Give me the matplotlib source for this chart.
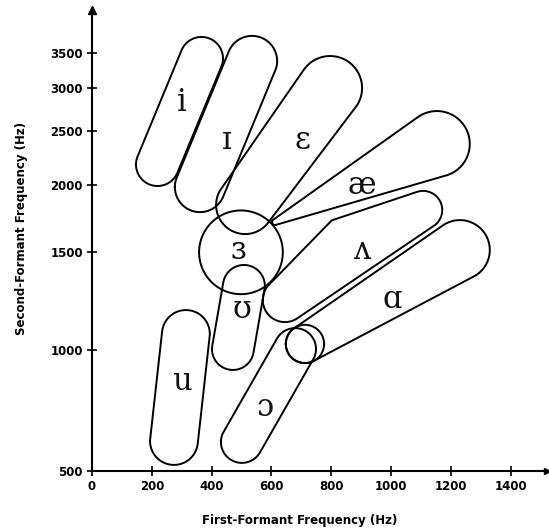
import numpy as np
import matplotlib
matplotlib.use("Agg")
import matplotlib.pyplot as plt

# ---- axis ticks ----
f1_ticks = [0, 200, 400, 600, 800, 1000, 1200, 1400]
f2_ticks = [500, 1000, 1500, 2000, 2500, 3000, 3500]

# ---- vowel regions: anchor points (F1 Hz, F2 Hz) and cap radii (Hz of F1) ----
i_f1, i_f2, i_r = [366, 219], [3426, 2189], [72, 72]
ih_f1, ih_f2, ih_r = [535, 361], [3390, 1985], [84, 84]
eh_f1, eh_f2, eh_r = [796, 512], [3004, 1851], [107, 97]
ae_f1, ae_f2, ae_r = [1153, 612], [2378, 1725], [110, 10]
er_f1, er_f2, er_r = [498], [1500], [140]
uh_f1, uh_f2, uh_r = [645, 806, 1107], [1256, 1725, 1814], [74, 7, 64]
uu_f1, uu_f2, uu_r = [508, 471], [1328, 1005], [70, 70]
aa_f1, aa_f2, aa_r = [712, 1230], [1031, 1517], [64, 100]
u_f1, u_f2, u_r = [314, 274], [1082, 624], [80, 80]
oh_f1, oh_f2, oh_r = [679, 501], [1005, 620], [70, 70]

# ---- vowel symbols and where they sit (F1 Hz, F2 Hz) ----
symbols = ["i", "ɪ", "ɛ", "æ", "ɜ", "ʌ", "ʊ", "ɑ", "u", "ɔ"]
label_f1 = [301, 451, 705, 903, 488, 903, 501, 1003, 301, 578]
label_f2 = [2827, 2414, 2414, 2000, 1517, 1517, 1205, 1256, 868, 764]

regions = [
    (i_f1, i_f2, i_r), (ih_f1, ih_f2, ih_r), (eh_f1, eh_f2, eh_r),
    (ae_f1, ae_f2, ae_r), (er_f1, er_f2, er_r), (uh_f1, uh_f2, uh_r),
    (uu_f1, uu_f2, uu_r), (aa_f1, aa_f2, aa_r), (u_f1, u_f2, u_r),
    (oh_f1, oh_f2, oh_r),
]

# ---- F2 axis scale: compressed piecewise-linear warp through the tick frequencies ----
_K = np.array([500, 1000, 1500, 2000, 2500, 3000, 3500], float)
_U = np.array([0, 121, 218.7, 286, 340.3, 382.7, 417.7], float)
_lo = (_U[1] - _U[0]) / (_K[1] - _K[0])
_hi = (_U[-1] - _U[-2]) / (_K[-1] - _K[-2])


def f2_forward(f):
    f = np.asarray(f, float)
    out = np.interp(f, _K, _U)
    out = np.where(f < _K[0], _U[0] + (f - _K[0]) * _lo, out)
    out = np.where(f > _K[-1], _U[-1] + (f - _K[-1]) * _hi, out)
    return out


def f2_inverse(u):
    u = np.asarray(u, float)
    out = np.interp(u, _U, _K)
    out = np.where(u < _U[0], _K[0] + (u - _U[0]) / _lo, out)
    out = np.where(u > _U[-1], _K[-1] + (u - _U[-1]) / _hi, out)
    return out


def convex_hull(pts):
    pts = sorted(set((round(x, 3), round(y, 3)) for x, y in pts))

    def cross(o, a, b):
        return (a[0] - o[0]) * (b[1] - o[1]) - (a[1] - o[1]) * (b[0] - o[0])

    lower, upper = [], []
    for p in pts:
        while len(lower) >= 2 and cross(lower[-2], lower[-1], p) <= 0:
            lower.pop()
        lower.append(p)
    for p in reversed(pts):
        while len(upper) >= 2 and cross(upper[-2], upper[-1], p) <= 0:
            upper.pop()
        upper.append(p)
    return np.array(lower[:-1] + upper[:-1])


fig = plt.figure(figsize=(5.49, 5.30), dpi=100)
ax = fig.add_axes([92 / 549, 59 / 530, 455 / 549, 461 / 530])
ax.set_yscale("function", functions=(f2_forward, f2_inverse))
ax.set_xlim(0, 455 / 0.2991)
ax.set_ylim(500, float(f2_inverse(461.0)))

px_per_hz = (ax.transData.transform((1000, 1000))[0]
             - ax.transData.transform((0, 1000))[0]) / 1000.0
theta = np.linspace(0, 2 * np.pi, 240, endpoint=False)


def circle_px(f1, f2, r):
    cx, cy = ax.transData.transform((f1, f2))
    rp = r * px_per_hz
    return np.column_stack([cx + rp * np.cos(theta), cy + rp * np.sin(theta)])


def draw_outline(pts_px):
    pts_px = np.vstack([pts_px, pts_px[:1]])
    d = ax.transData.inverted().transform(pts_px)
    ax.plot(d[:, 0], d[:, 1], color="black", lw=1.4, clip_on=False,
            solid_joinstyle="round")


for f1s, f2s, rs in regions:
    pts = np.vstack([circle_px(a, b, r) for a, b, r in zip(f1s, f2s, rs)])
    draw_outline(convex_hull(pts))

# the low end of the [ɑ] region is closed off by a full circle
draw_outline(circle_px(aa_f1[0], aa_f2[0], aa_r[0]))

for s, x, y in zip(symbols, label_f1, label_f2):
    ax.text(x, y, s, ha="center", va="center", fontsize=22,
            family=["DejaVu Serif", "DejaVu Sans"], color="#111111")

# ---- axes ----
for side in ("top", "right"):
    ax.spines[side].set_visible(False)
for side in ("left", "bottom"):
    ax.spines[side].set_linewidth(1.5)
ax.set_xticks(f1_ticks)
ax.set_yticks(f2_ticks)
ax.set_xticklabels([str(v) for v in f1_ticks])
ax.set_yticklabels([str(v) for v in f2_ticks])
ax.tick_params(direction="inout", length=7, width=1.2, labelsize=8.5, pad=3)
for lab in ax.get_xticklabels() + ax.get_yticklabels():
    lab.set_fontweight("bold")

ax.plot([0], [1], marker="^", color="black", ms=6,
        transform=ax.get_xaxis_transform(), clip_on=False)
ax.plot([1], [500], marker=">", color="black", ms=5,
        transform=ax.get_yaxis_transform(), clip_on=False)

ax.set_xlabel("First-Formant Frequency (Hz)", fontsize=8.5, fontweight="bold")
ax.set_ylabel("Second-Formant Frequency (Hz)", fontsize=8.5, fontweight="bold")
ax.xaxis.set_label_coords((300 - 92) / 455, (471 - 514) / 461)
ax.yaxis.set_label_coords((28 - 92) / 455, (471 - 228) / 461)

fig.savefig("out.png", dpi=100)
